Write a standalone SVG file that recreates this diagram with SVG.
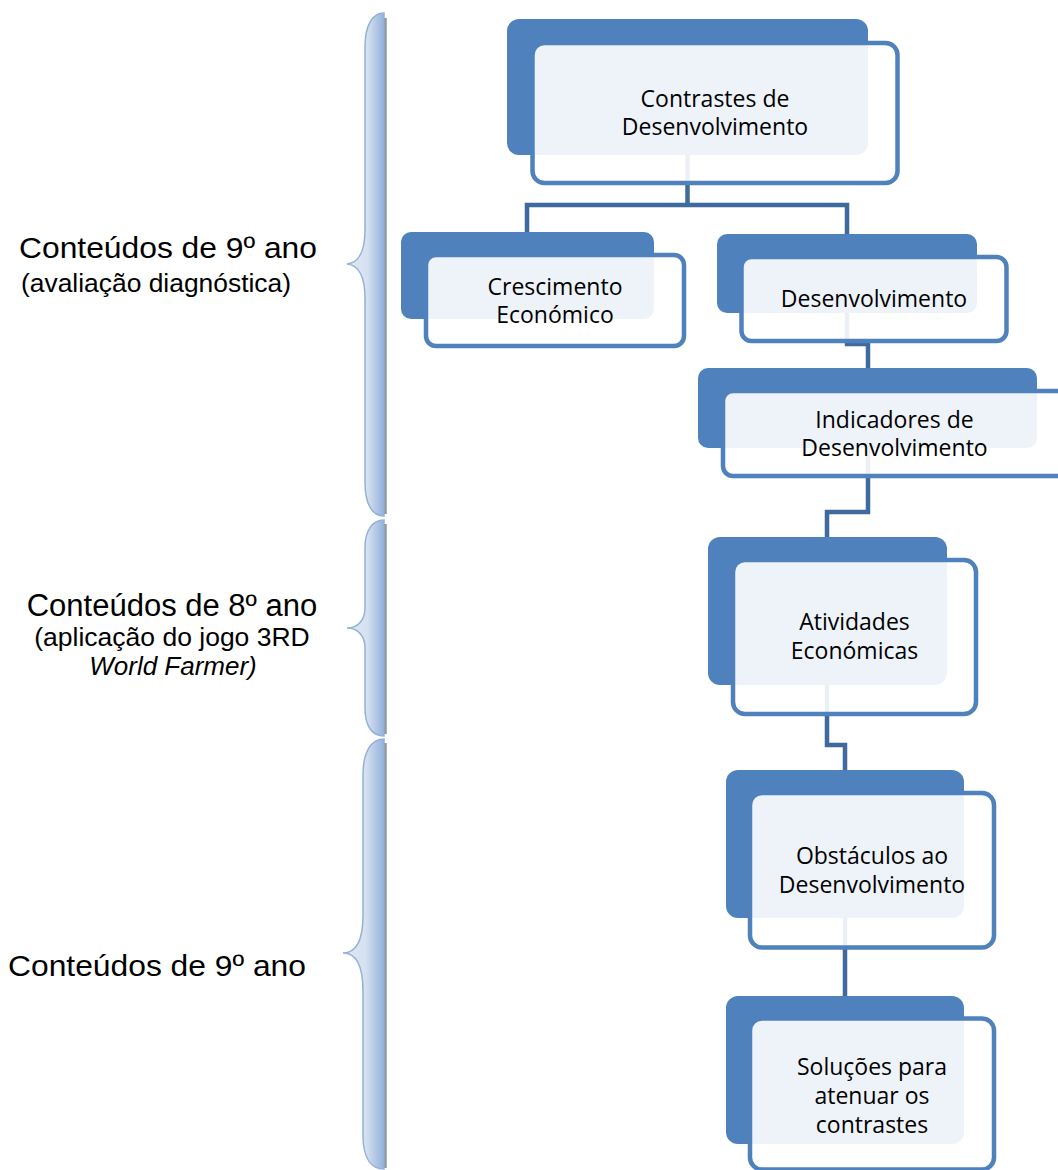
<svg xmlns="http://www.w3.org/2000/svg" width="1058" height="1170" viewBox="0 0 1058 1170">
<style>
.back{fill:#4F81BD}
.front{fill:#fff;fill-opacity:0.9;stroke:#4F81BD;stroke-width:4.5}
.lbl{font-family:"Open Sans","Liberation Sans",sans-serif;font-size:23px;fill:#000;text-anchor:middle}
.conn{fill:none;stroke:#3E6A9E;stroke-width:4.5}
.side{font-family:"Liberation Sans",Arial,sans-serif;fill:#000}
.brace{fill:url(#bg);stroke:#93B1D9;stroke-width:1.5}
.bsh{stroke:#8E99A8;stroke-width:2.5}
</style>
<defs>
<linearGradient id="bg" x1="0" y1="0" x2="1" y2="0">
<stop offset="0" stop-color="#dfe8f4"/>
<stop offset="0.55" stop-color="#d6e1f0"/>
<stop offset="1" stop-color="#93b2db"/>
</linearGradient>
</defs>
<rect width="1058" height="1170" fill="#fff"/>
<g id="braces">
<path class="brace" d="M384 13 C372 13 365 26 365 47 V230 C365 252 358 263 347 264 C358 265 365 276 365 298 V482 C365 504 372 516 384 516 Z"/>
<line class="bsh" x1="385.5" y1="18" x2="385.5" y2="514"/>
<path class="brace" d="M384 520 C372 520 365 531 365 548 V608 C365 620 358 628 347 628 C358 628 365 636 365 648 V708 C365 726 372 736 384 736 Z"/>
<line class="bsh" x1="385.5" y1="524" x2="385.5" y2="734"/>
<path class="brace" d="M384 739 C371 739 363 752 363 775 V915 C363 940 356 953 343 953 C356 953 363 966 363 991 V1135 C363 1158 371 1169 384 1169 Z"/>
<line class="bsh" x1="385.5" y1="743" x2="385.5" y2="1168"/>
</g>
<g id="side-labels">
<text class="side" x="19" y="258" font-size="30" textLength="298" lengthAdjust="spacingAndGlyphs">Conteúdos de 9º ano</text>
<text class="side" x="21" y="292" font-size="25" textLength="270" lengthAdjust="spacingAndGlyphs">(avaliação diagnóstica)</text>
<text class="side" x="172" y="616" font-size="31" text-anchor="middle">Conteúdos de 8º ano</text>
<text class="side" x="172" y="646" font-size="26.5" text-anchor="middle">(aplicação do jogo 3RD</text>
<text class="side" x="173" y="675" font-size="26" text-anchor="middle" font-style="italic">World Farmer)</text>
<text class="side" x="8" y="976" font-size="30" textLength="298" lengthAdjust="spacingAndGlyphs">Conteúdos de 9º ano</text>
</g>
<g id="connectors">
<path class="conn" d="M687.5 155 V205 M527 232 V205 H847 V234"/>
<path class="conn" d="M847 313 V344 H868 V368"/>
<path class="conn" d="M868 448 V512 H827 V537"/>
<path class="conn" d="M827 685 V745 H845 V770"/>
<path class="conn" d="M845 918 V996"/>
</g>
<g id="n1">
<rect class="back" x="507" y="19" width="361" height="136" rx="12"/>
<rect class="front" x="532.5" y="43" width="365" height="140" rx="12"/>
<text class="lbl" x="715" y="106.5">Contrastes de<tspan x="715" dy="28.5">Desenvolvimento</tspan></text>
</g>
<g id="n2">
<rect class="back" x="401" y="232" width="253" height="87" rx="10"/>
<rect class="front" x="426" y="255" width="258" height="91" rx="10"/>
<text class="lbl" x="555" y="295">Crescimento<tspan x="555" dy="28">Económico</tspan></text>
</g>
<g id="n3">
<rect class="back" x="717" y="234" width="260" height="79" rx="10"/>
<rect class="front" x="741.5" y="257" width="265" height="84" rx="10"/>
<text class="lbl" x="874" y="307">Desenvolvimento</text>
</g>
<g id="n4">
<rect class="back" x="698" y="368" width="339" height="80" rx="10"/>
<rect class="front" x="723" y="391" width="345" height="85" rx="10"/>
<text class="lbl" x="894.5" y="428">Indicadores de<tspan x="894.5" dy="28">Desenvolvimento</tspan></text>
</g>
<g id="n5">
<rect class="back" x="708" y="537" width="239" height="148" rx="12"/>
<rect class="front" x="733" y="560" width="243" height="154" rx="12"/>
<text class="lbl" x="854.5" y="630">Atividades<tspan x="854.5" dy="29">Económicas</tspan></text>
</g>
<g id="n6">
<rect class="back" x="726" y="770" width="238" height="148" rx="12"/>
<rect class="front" x="750" y="793" width="244" height="154.5" rx="12"/>
<text class="lbl" x="872" y="864">Obstáculos ao<tspan x="872" dy="29">Desenvolvimento</tspan></text>
</g>
<g id="n7">
<rect class="back" x="726" y="996" width="238" height="148" rx="12"/>
<rect class="front" x="750" y="1018.5" width="244" height="151" rx="12"/>
<text class="lbl" x="872" y="1075">Soluções para<tspan x="872" dy="29">atenuar os</tspan><tspan x="872" dy="29">contrastes</tspan></text>
</g>
</svg>
